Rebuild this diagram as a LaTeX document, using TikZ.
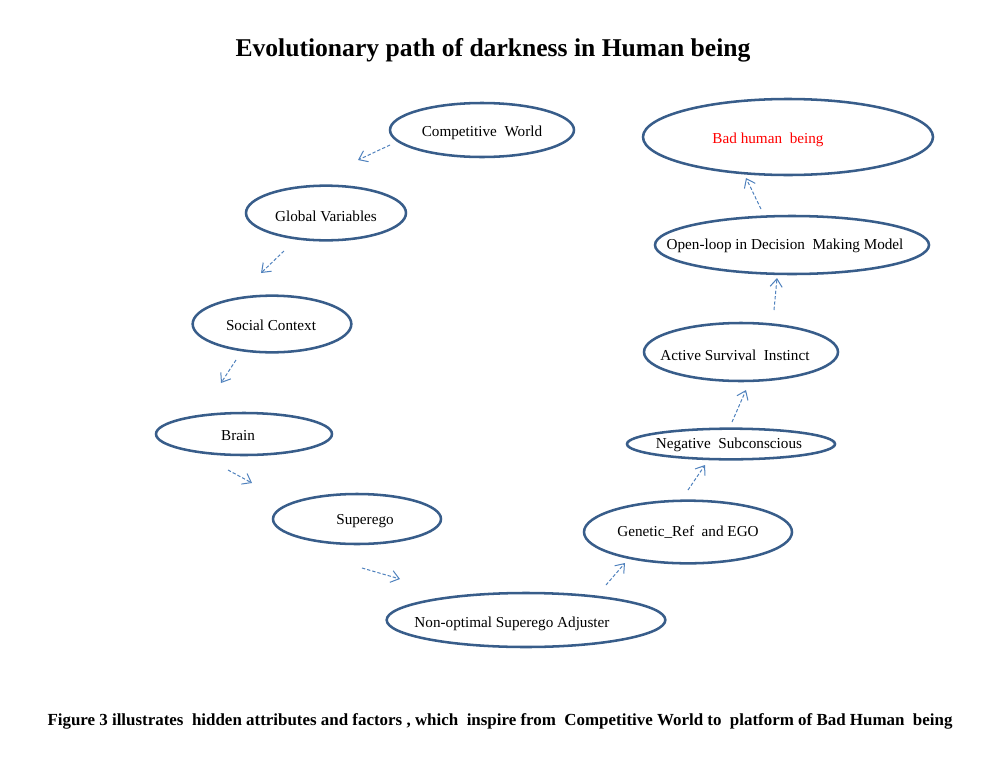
\documentclass[tikz,border=0pt]{standalone}
\usepackage{fontspec}
\setmainfont{Liberation Serif}
\usetikzlibrary{shapes.geometric,arrows.meta}
\definecolor{ovalline}{RGB}{56,93,138}
\definecolor{arrowc}{RGB}{79,129,189}
\tikzset{
  oval/.style={ellipse, draw=ovalline, line width=1.9pt, inner sep=0pt},
  lbl/.style={font=\fontsize{11.4pt}{13pt}\selectfont, inner sep=0pt, text=black},
  flow/.style={draw=arrowc, line width=0.75pt, dash pattern=on 2.5pt off 1.5pt, -{Straight Barb[length=6pt,width=9pt,line width=0.75pt]}}
}
\begin{document}
\begin{tikzpicture}[x=0.75pt,y=-0.75pt]
\useasboundingbox (0,0) rectangle (1007,757);
% title
\node[inner sep=0pt, font=\bfseries\fontsize{19.2pt}{21pt}\selectfont] (title) at (493,50) {Evolutionary path of darkness in Human being};
% ovals
\node[oval, minimum width=138pt, minimum height=40.5pt] (cw) at (482,130) {};
\node[oval, minimum width=120pt, minimum height=41pt] (gv) at (326,213) {};
\node[oval, minimum width=119pt, minimum height=42.5pt] (sc) at (272,324) {};
\node[oval, minimum width=132pt, minimum height=31.5pt] (br) at (244,434) {};
\node[oval, minimum width=126pt, minimum height=37.5pt] (se) at (357,519) {};
\node[oval, minimum width=209pt, minimum height=40.5pt] (no) at (526,620) {};
\node[oval, minimum width=156pt, minimum height=47pt] (ge) at (688,532) {};
\node[oval, minimum width=156pt, minimum height=23pt] (ns) at (731,444) {};
\node[oval, minimum width=145.5pt, minimum height=43.5pt] (as) at (741,352) {};
\node[oval, minimum width=205.5pt, minimum height=43.5pt] (ol) at (792,245) {};
\node[oval, minimum width=217.5pt, minimum height=57pt] (bh) at (788,137) {};
% labels
\node[lbl] (tcw) at (482,133) {Competitive\ \ World};
\node[lbl] (tgv) at (326,216) {Global Variables};
\node[lbl] (tsc) at (271,325) {Social Context};
\node[lbl] (tbr) at (238,436) {Brain};
\node[lbl] (tse) at (365,521) {Superego};
\node[lbl] (tno) at (512,624) {Non-optimal Superego Adjuster};
\node[lbl] (tge) at (688,532) {Genetic\_Ref\ \ and EGO};
\node[lbl] (tns) at (729,445) {Negative\ \ Subconscious};
\node[lbl] (tas) at (735,355) {Active Survival\ \ Instinct};
\node[lbl] (tol) at (785,246) {Open-loop in Decision\ \ Making Model};
\node[lbl, text=red] (tbh) at (768,140) {Bad human\ \ being};
% arrow end points
\coordinate (a1s) at (390,145); \coordinate (a1e) at (358,160);
\coordinate (a2s) at (284,251); \coordinate (a2e) at (261,273);
\coordinate (a3s) at (236,360); \coordinate (a3e) at (221,383);
\coordinate (a4s) at (228,470); \coordinate (a4e) at (252,483);
\coordinate (a5s) at (362,568); \coordinate (a5e) at (400,579);
\coordinate (a6s) at (606,585); \coordinate (a6e) at (625,563);
\coordinate (a7s) at (688,490); \coordinate (a7e) at (705,465);
\coordinate (a8s) at (732,422); \coordinate (a8e) at (746,390);
\coordinate (a9s) at (774,310); \coordinate (a9e) at (777,278);
\coordinate (a10s) at (761,209); \coordinate (a10e) at (746,178);
\foreach \i in {1,...,10} {\draw[flow] (a\i s) -- (a\i e);}
% caption
\node[inner sep=0pt, font=\bfseries\fontsize{12.7pt}{14pt}\selectfont] (cap) at (500,721) {Figure 3 illustrates\ \ hidden attributes and factors , which\ \ inspire from\ \ Competitive World to\ \ platform of Bad Human\ \ being};
\end{tikzpicture}
\end{document}
